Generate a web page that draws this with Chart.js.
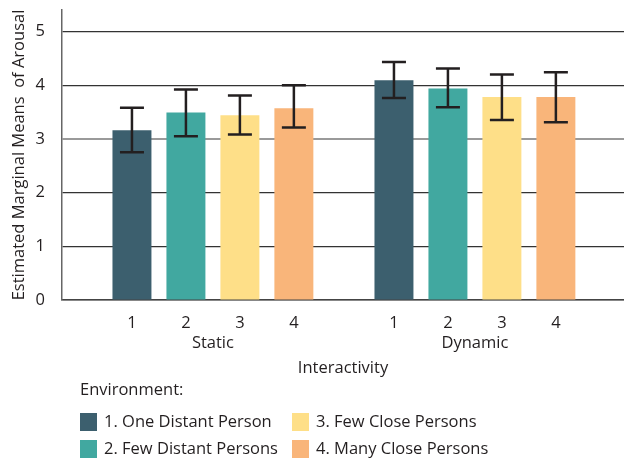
<!DOCTYPE html>
<html>
<head>
<meta charset="utf-8">
<script src="https://cdn.jsdelivr.net/npm/chart.js@4.4.1/dist/chart.umd.min.js"></script>
<style>
    html, body { margin: 0; padding: 0; background: #fff; }
    #wrap { width: 624px; height: 459px; position: relative; }
</style>
</head>
<body>
<div id="wrap"><canvas id="chart"></canvas></div>
<script>
// Data
const groups = ["Static", "Dynamic"];
const environments = ["1. One Distant Person", "2. Few Distant Persons", "3. Few Close Persons", "4. Many Close Persons"];
const colors = ["#3c5f6e", "#41a8a0", "#fedf88", "#f9b57a"];
// means[environment][group]
const means = [[3.16, 4.09], [3.49, 3.94], [3.44, 3.78], [3.57, 3.78]];
const lower = [[2.75, 3.76], [3.05, 3.59], [3.08, 3.35], [3.21, 3.31]];
const upper = [[3.58, 4.43], [3.92, 4.31], [3.81, 4.20], [4.00, 4.24]];

const FONT = "'Open Sans'";
const FSIZE = 16.5;
const TEXT = "#231f20";

// Error bars
const errorBars = {
    id: "errorBars",
    afterDatasetsDraw(chart) {
        const ctx = chart.ctx;
        const y = chart.scales.y;
        ctx.save();
        ctx.strokeStyle = "#231f20";
        ctx.lineWidth = 2.5;
        chart.data.datasets.forEach((ds, e) => {
            chart.getDatasetMeta(e).data.forEach((bar, g) => {
                const top = y.getPixelForValue(upper[e][g]);
                const bot = y.getPixelForValue(lower[e][g]);
                ctx.beginPath();
                ctx.moveTo(bar.x, top); ctx.lineTo(bar.x, bot);
                ctx.moveTo(bar.x - 12, top); ctx.lineTo(bar.x + 12, top);
                ctx.moveTo(bar.x - 12, bot); ctx.lineTo(bar.x + 12, bot);
                ctx.stroke();
            });
        });
        ctx.restore();
    }
};

// Numbers under bars + legend
const labelsAndLegend = {
    id: "labelsAndLegend",
    afterDraw(chart) {
        const ctx = chart.ctx;
        ctx.save();
        ctx.fillStyle = TEXT;
        ctx.font = FSIZE + "px " + FONT;
        ctx.textAlign = "center";
        ctx.textBaseline = "middle";
        chart.data.datasets.forEach((ds, e) => {
            chart.getDatasetMeta(e).data.forEach(bar => {
                ctx.fillText(String(e + 1), bar.x, 323);
            });
        });

        ctx.textAlign = "left";
        ctx.fillText("Environment:", 80, 390);
        const colX = [80, 292];
        const rowY = [422, 449];
        environments.forEach((name, e) => {
            const x = colX[Math.floor(e / 2)];
            const yy = rowY[e % 2];
            ctx.fillStyle = colors[e];
            ctx.fillRect(x, yy - 9, 17, 18);
            ctx.fillStyle = TEXT;
            ctx.fillText(name, x + 24, yy);
        });
        ctx.restore();
    }
};

const datasets = environments.map((name, e) => ({
    label: name,
    data: groups.map((g, i) => ({ x: i, y: means[e][i] })),
    backgroundColor: colors[e],
    borderWidth: 0,
    categoryPercentage: 0.824,
    barPercentage: 0.722
}));

new Chart(document.getElementById("chart"), {
    type: "bar",
    data: { datasets },
    options: {
        responsive: true,
        maintainAspectRatio: false,
        devicePixelRatio: 1,
        animation: false,
        layout: { padding: { top: 10, bottom: 80.4, left: 0, right: 0 } },
        plugins: {
            legend: { display: false },
            tooltip: { enabled: false }
        },
        scales: {
            x: {
                type: "linear",
                offset: false,
                min: -0.576,
                max: 1.569,
                grid: { display: false, drawTicks: false, offset: false },
                border: { display: true, color: "#444", width: 1.5 },
                ticks: {
                    stepSize: 1,
                    includeBounds: false,
                    padding: 33,
                    color: TEXT,
                    font: { family: FONT, size: FSIZE },
                    callback: v => groups[v]
                },
                title: {
                    display: true,
                    text: "Interactivity",
                    color: TEXT,
                    font: { family: FONT, size: FSIZE },
                    padding: 0
                },
                afterFit: s => { s.height = 78.6; }
            },
            y: {
                min: 0,
                max: 5.4,
                grid: {
                    drawTicks: false,
                    color: c => c.tick && c.tick.value === 3 ? "#9a9a9a" : "#333",
                    lineWidth: c => c.tick && c.tick.value === 3 ? 2 : 1.2
                },
                border: { display: true, color: "#666", width: 1.5 },
                ticks: {
                    stepSize: 1,
                    includeBounds: false,
                    padding: 17,
                    color: TEXT,
                    font: { family: FONT, size: FSIZE }
                },
                title: {
                    display: true,
                    text: "Estimated Marginal Means  of Arousal",
                    color: TEXT,
                    font: { family: FONT, size: FSIZE },
                    padding: { top: 9, bottom: 0 }
                },
                afterFit: s => {
                    s.width = 62;
                    s.paddingTop = 0;
                    s.paddingBottom = 0;
                }
            }
        }
    },
    plugins: [errorBars, labelsAndLegend]
});
</script>
</body>
</html>
